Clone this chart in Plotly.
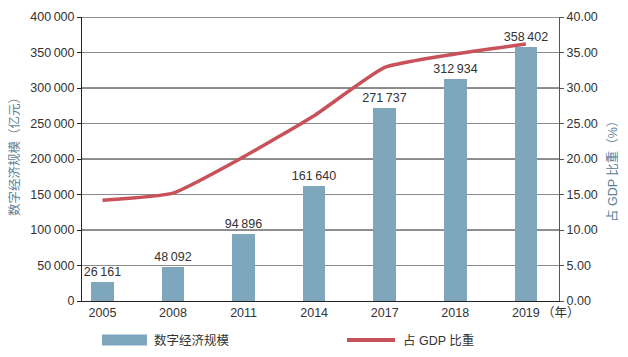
import plotly.graph_objects as go

years = ["2005", "2008", "2011", "2014", "2017", "2018", "2019"]
scale = [26161, 48092, 94896, 161640, 271737, 312934, 358402]
scale_labels = ["26\u2009161", "48\u2009092", "94\u2009896", "161\u2009640", "271\u2009737", "312\u2009934", "358\u2009402"]
gdp_share = [14.2, 15.2, 20.3, 26.1, 32.9, 34.8, 36.2]
left_ticks = [0, 50000, 100000, 150000, 200000, 250000, 300000, 350000, 400000]
left_tick_text = ["0", "50\u2009000", "100\u2009000", "150\u2009000", "200\u2009000", "250\u2009000",
                  "300\u2009000", "350\u2009000", "400\u2009000"]

BAR = "#7ea7bd"
LINE = "#c9515a"
TXT = "#333333"
TITLE = "#5a7f98"
FONT = "Liberation Sans, Arial, Noto Sans CJK SC, sans-serif"

# page body has an 8px default margin; work in window pixels and shift
OFF = 8
W, H = 628 - OFF, 357 - OFF
L, R, T, B = 82 - OFF, 559 - OFF, 17 - OFF, 301 - OFF
pw, ph = R - L, B - T

xpos = list(range(len(years)))

fig = go.Figure()
fig.add_trace(go.Bar(
    x=xpos, y=scale, marker=dict(color=BAR, line=dict(width=0)), width=0.32,
    text=scale_labels, textposition="outside", constraintext="none", textangle=0,
    textfont=dict(size=12.5, color=TXT, family=FONT),
    cliponaxis=False, showlegend=False, yaxis="y"))
fig.add_trace(go.Scatter(
    x=xpos, y=gdp_share, mode="lines", line=dict(color=LINE, width=3.5, shape="spline", smoothing=0.45),
    showlegend=False, yaxis="y2"))

shapes = []
for v in left_ticks[1:]:
    if v % 100000 == 0:
        shapes.append(dict(type="line", xref="paper", yref="y", x0=0, x1=1, y0=v, y1=v,
                           line=dict(color="#222222", width=1), layer="between"))

def px(xw):
    return (xw - OFF - L) / pw

def py(yw):
    return (B - (yw - OFF)) / ph

# custom legend (window pixel positions)
shapes.append(dict(type="rect", xref="paper", yref="paper", x0=px(102), x1=px(147), y0=py(345.5), y1=py(334.5),
                   fillcolor=BAR, line=dict(width=0)))
shapes.append(dict(type="line", xref="paper", yref="paper", x0=px(347), x1=px(395), y0=py(340), y1=py(340),
                   line=dict(color=LINE, width=4)))

annotations = [
    dict(text="数字经济规模", xref="paper", yref="paper", x=px(152), y=py(340), xanchor="left", yanchor="middle",
         showarrow=False, font=dict(size=12.5, color=TXT, family=FONT)),
    dict(text="占 GDP 比重", xref="paper", yref="paper", x=px(401), y=py(340), xanchor="left", yanchor="middle",
         showarrow=False, font=dict(size=12.5, color=TXT, family=FONT)),
    dict(text="（年）", xref="x", yref="paper", x=xpos[-1], xshift=14, y=py(313), xanchor="left", yanchor="middle",
         showarrow=False, font=dict(size=12.5, color=TXT, family=FONT)),
    dict(text="数字经济规模（亿元）", xref="paper", yref="paper", x=px(14), y=py(154), xanchor="center",
         yanchor="middle", textangle=-90, showarrow=False, font=dict(size=12.5, color=TITLE, family=FONT)),
    dict(text="占 GDP 比重（%）", xref="paper", yref="paper", x=px(612), y=py(169), xanchor="center",
         yanchor="middle", textangle=-90, showarrow=False, font=dict(size=12.5, color=TITLE, family=FONT)),
]

fig.update_layout(
    width=W, height=H,
    margin=dict(l=L, r=W - R, t=T, b=H - B, pad=0, autoexpand=False),
    paper_bgcolor="white", plot_bgcolor="white",
    font=dict(family=FONT, size=12, color=TXT),
    bargap=0,
    xaxis=dict(range=[-0.29, 6.47], tickvals=xpos, ticktext=years, showgrid=False, zeroline=False,
               showline=True, linecolor="#222222", linewidth=1, ticks="", automargin=False,
               tickfont=dict(size=12.5, color=TXT)),
    yaxis=dict(range=[0, 400000], tickvals=left_ticks, ticktext=left_tick_text, showgrid=True,
               gridcolor="#8a8a8a", gridwidth=1, zeroline=False, showline=True, linecolor="#222222",
               linewidth=1, ticks="outside", ticklen=4, tickcolor="#222222", automargin=False,
               tickfont=dict(size=12.5, color=TXT)),
    yaxis2=dict(range=[0, 40], dtick=5, tickformat=".2f", overlaying="y", side="right", showgrid=False,
                zeroline=False, showline=True, linecolor="#555555", linewidth=1, ticks="outside", ticklen=4,
                tickcolor="#555555", automargin=False, tickfont=dict(size=12.5, color=TXT)),
    shapes=shapes,
    annotations=annotations,
)

fig.write_html("out.html")
